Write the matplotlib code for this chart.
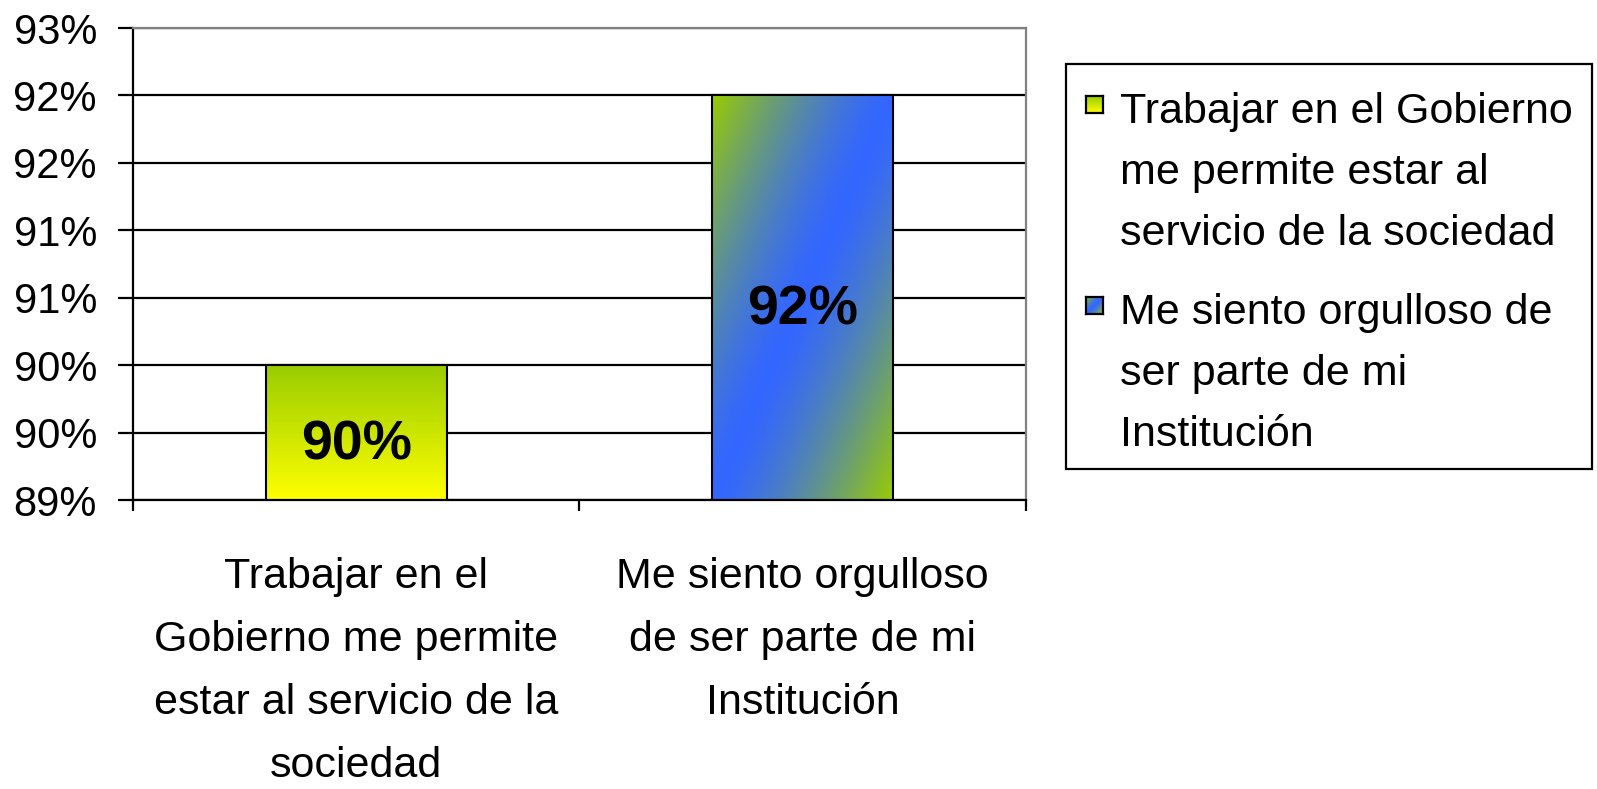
import numpy as np
import matplotlib
matplotlib.use("Agg")
import matplotlib.pyplot as plt
from matplotlib.patches import Rectangle
from matplotlib.ticker import FixedLocator, FuncFormatter

plt.rcParams['font.family'] = ['Liberation Sans', 'DejaVu Sans']

# data
categories = ["Trabajar en el\nGobierno me permite\nestar al servicio de la\nsociedad",
              "Me siento orgulloso\nde ser parte de mi\nInstitución"]
legend_labels = ["Trabajar en el Gobierno\nme permite estar al\nservicio de la sociedad",
                 "Me siento orgulloso de\nser parte de mi\nInstitución"]
values = [0.90, 0.92]
value_labels = ["90%", "92%"]
y_ticks = [0.89, 0.895, 0.90, 0.905, 0.91, 0.915, 0.92, 0.925]

W, H = 1597, 789
fig = plt.figure(figsize=(W / 100, H / 100), dpi=100)
ax = fig.add_axes([133 / W, 1 - 500 / H, 893 / W, 472 / H])

x = np.arange(len(categories))
bars = ax.bar(x, values, width=0.405, facecolor='none', edgecolor='black',
              linewidth=1.5, zorder=3)
ax.set_xlim(-0.5, len(categories) - 0.5)
ax.set_ylim(y_ticks[0], y_ticks[-1])


def grad_vertical(n=200):
    # top yellow-green -> bottom yellow
    top = np.array([0.60, 0.80, 0.0])
    bot = np.array([1.0, 1.0, 0.0])
    t = np.linspace(0, 1, n)[:, None]
    col = top * (1 - t) + bot * t
    return np.repeat(col[:, None, :], 20, axis=1)


def grad_diagonal(n=200, m=100):
    # green corners, blue band along the rising diagonal
    green = np.array([0.60, 0.80, 0.0])
    blue = np.array([0.20, 0.40, 1.0])
    v, u = np.mgrid[0:1:n * 1j, 0:1:m * 1j]
    s = np.clip(np.abs(u + v - 1), 0, 1) ** 1.4
    s = s[..., None]
    return blue * (1 - s) + green * s


grads = [grad_vertical(), grad_diagonal()]
ybot = ax.get_ylim()[0]
for rect, g in zip(bars, grads):
    x0, w = rect.get_x(), rect.get_width()
    y1 = rect.get_y() + rect.get_height()
    im = ax.imshow(g, extent=[x0, x0 + w, ybot, y1], aspect='auto',
                   origin='upper', zorder=2, interpolation='bilinear')
    im.set_clip_path(rect)

ax.set_xlim(-0.5, len(categories) - 0.5)
ax.set_ylim(y_ticks[0], y_ticks[-1])

for xi, v, lab in zip(x, values, value_labels):
    ax.annotate(lab, (xi, (ybot + v) / 2), xytext=(0, -9), textcoords='offset points',
                ha='center', va='center', fontsize=40, fontweight='bold', zorder=5)

# axes styling
ax.yaxis.set_major_locator(FixedLocator(y_ticks))
ax.yaxis.set_major_formatter(FuncFormatter(lambda v, p: f"{int(np.floor(v * 100 + 0.5))}%"))
ax.yaxis.grid(True, color='black', linewidth=1.6, zorder=1)
ax.set_axisbelow(True)
ax.tick_params(axis='y', labelsize=30, length=11, width=1.6, pad=15, direction='out')

ax.set_xticks(x)
ax.set_xticklabels(categories, fontsize=31, linespacing=1.74)
ax.tick_params(axis='x', length=0, pad=41)
ax.set_xticks([-0.5, 0.5, 1.5], minor=True)
ax.tick_params(axis='x', which='minor', length=8, width=1.6, direction='out')

for side in ['top', 'right']:
    ax.spines[side].set_color('#808080')
    ax.spines[side].set_linewidth(1.6)
for side in ['left', 'bottom']:
    ax.spines[side].set_color('black')
    ax.spines[side].set_linewidth(1.6)

# legend drawn by hand
box = Rectangle((1066 / W, 1 - 469 / H), (1592 - 1066) / W, (469 - 64) / H,
                transform=fig.transFigure, facecolor='white',
                edgecolor='black', linewidth=1.6, zorder=-1)
fig.patches.append(box)
entry_tops = [92, 293]
for top, lab, g in zip(entry_tops, legend_labels, grads):
    fig.text(1120 / W, 1 - top / H, lab, fontsize=31, ha='left', va='top',
             linespacing=1.67)
    sq = fig.add_axes([1086 / W, 1 - (top + 21) / H, 17 / W, 17 / H])
    sq.set_zorder(5)
    sq.imshow(g, aspect='auto', interpolation='bilinear')
    sq.set_xticks([])
    sq.set_yticks([])
    for s in sq.spines.values():
        s.set_linewidth(1.6)
        s.set_color('black')

fig.savefig("out.png", dpi=100)
